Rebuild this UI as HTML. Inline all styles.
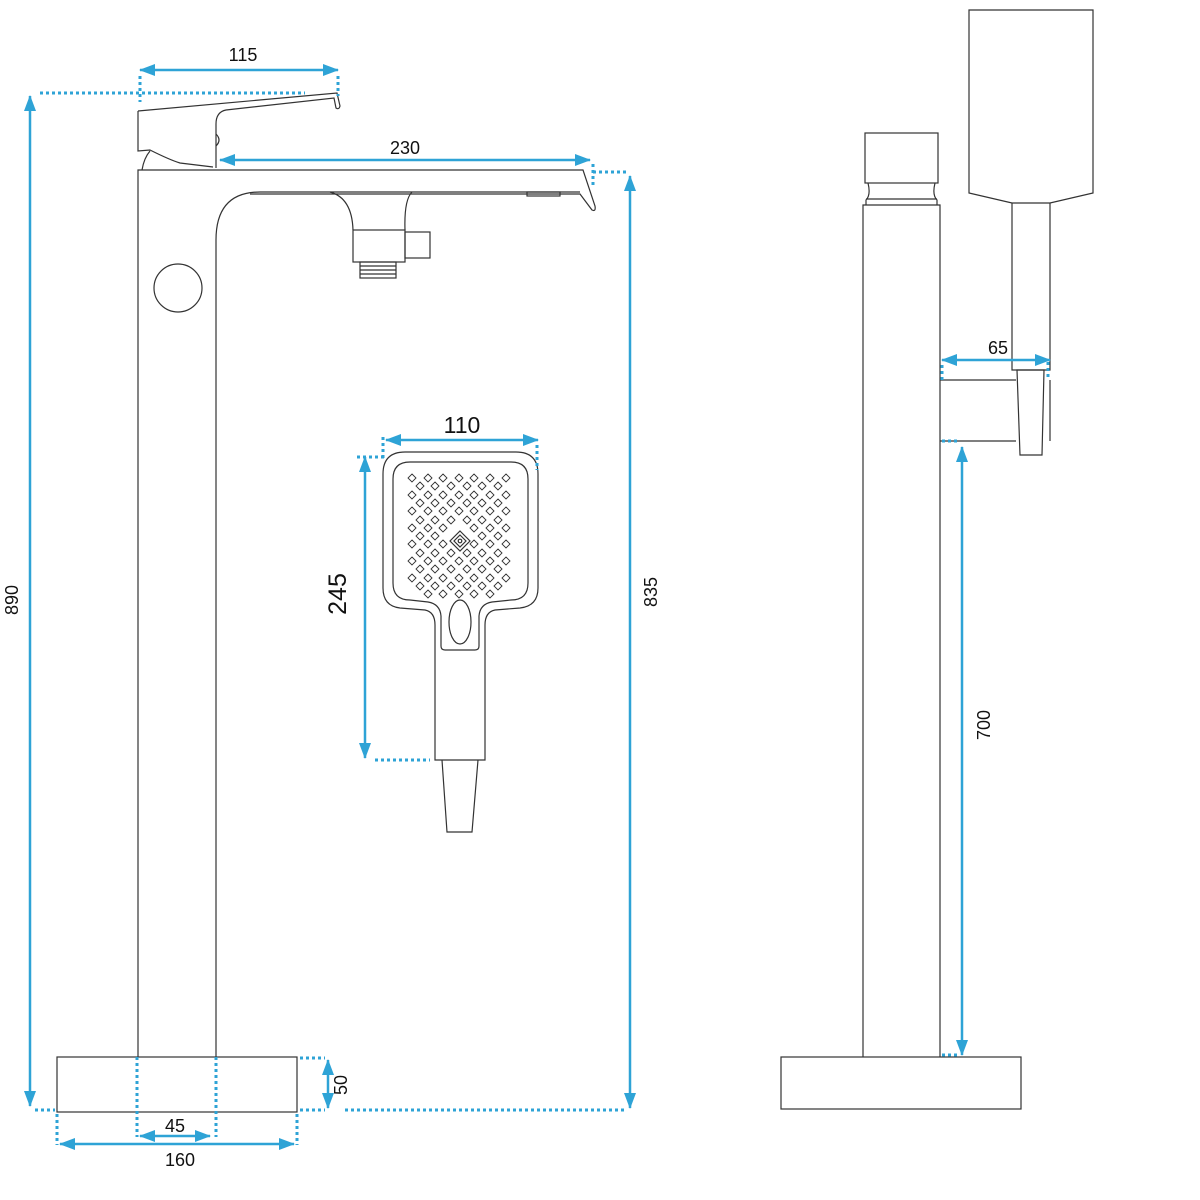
<!DOCTYPE html>
<html><head><meta charset="utf-8"><style>html,body{margin:0;padding:0;background:#fff}svg{display:block}text{font-family:"Liberation Sans",sans-serif;fill:#111}</style></head>
<body>
<svg width="1200" height="1200" viewBox="0 0 1200 1200" xmlns="http://www.w3.org/2000/svg">
<defs>
<marker id="a" markerWidth="16" markerHeight="12" refX="15" refY="6" orient="auto-start-reverse" markerUnits="userSpaceOnUse"><path d="M0,0 L16,6 L0,12 Z" fill="#2ea3d6"/></marker>
</defs>
<g fill="none" stroke="#333" stroke-width="1.2">
<path d="M138,1057 V170 H583 L595,206 Q596,212 592,210 L580,194 H250"/>
<path d="M216,1057 V240 Q216,192 260,192 H580"/>
<path d="M138,111 L337,93 L340,106 Q339,110 336,108 L334,98 L226,110 Q216,112 216,124 V168"/>
<path d="M138,111 V151 L150,150 Q170,160 180,163 L213,167"/>
<path d="M142,170 Q144,158 150,151"/>
<path d="M216,134 Q222,140 216,146"/>
<path d="M330,192 Q352,198 353,230 M412,192 Q404,200 405,230"/>
<rect x="353" y="230" width="52" height="32"/>
<rect x="405" y="232" width="25" height="26"/>
<rect x="360" y="262" width="36" height="16"/>
<path d="M360,266 H396 M360,270 H396 M360,274 H396"/>
<rect x="527" y="192" width="33" height="4"/>
<circle cx="178" cy="288" r="24"/>
<rect x="57" y="1057" width="240" height="55"/>
<path d="M405,452 H516 Q538,452 538,474 V588 Q538,606 520,608 L495,610 Q485,612 485,625 V760 H435 V625 Q435,612 425,610 L400,608 Q383,606 383,588 V474 Q383,452 405,452 Z"/>
<path d="M410,462 H511 Q528,462 528,479 V583 Q528,600 511,600 L492,602 Q480,604 479,616 V646 Q479,650 475,650 H445 Q441,650 441,646 V616 Q440,604 428,602 L410,600 Q393,600 393,583 V479 Q393,462 410,462 Z"/>
<ellipse cx="460" cy="622" rx="11" ry="22"/>
<path d="M442,760 L447,832 H472 L478,760"/>
<g stroke-width="0.9">
<path d="M412,474l4,4-4,4-4-4zM428,474l4,4-4,4-4-4zM443,474l4,4-4,4-4-4zM459,474l4,4-4,4-4-4zM474,474l4,4-4,4-4-4zM490,474l4,4-4,4-4-4zM506,474l4,4-4,4-4-4z"/>
<path d="M420,482l4,4-4,4-4-4zM435,482l4,4-4,4-4-4zM451,482l4,4-4,4-4-4zM467,482l4,4-4,4-4-4zM482,482l4,4-4,4-4-4zM498,482l4,4-4,4-4-4z"/>
<path d="M412,491l4,4-4,4-4-4zM428,491l4,4-4,4-4-4zM443,491l4,4-4,4-4-4zM459,491l4,4-4,4-4-4zM474,491l4,4-4,4-4-4zM490,491l4,4-4,4-4-4zM506,491l4,4-4,4-4-4z"/>
<path d="M420,499l4,4-4,4-4-4zM435,499l4,4-4,4-4-4zM451,499l4,4-4,4-4-4zM467,499l4,4-4,4-4-4zM482,499l4,4-4,4-4-4zM498,499l4,4-4,4-4-4z"/>
<path d="M412,507l4,4-4,4-4-4zM428,507l4,4-4,4-4-4zM443,507l4,4-4,4-4-4zM459,507l4,4-4,4-4-4zM474,507l4,4-4,4-4-4zM490,507l4,4-4,4-4-4zM506,507l4,4-4,4-4-4z"/>
<path d="M420,516l4,4-4,4-4-4zM435,516l4,4-4,4-4-4zM451,516l4,4-4,4-4-4zM467,516l4,4-4,4-4-4zM482,516l4,4-4,4-4-4zM498,516l4,4-4,4-4-4z"/>
<path d="M412,524l4,4-4,4-4-4zM428,524l4,4-4,4-4-4zM443,524l4,4-4,4-4-4zM474,524l4,4-4,4-4-4zM490,524l4,4-4,4-4-4zM506,524l4,4-4,4-4-4z"/>
<path d="M420,532l4,4-4,4-4-4zM435,532l4,4-4,4-4-4zM482,532l4,4-4,4-4-4zM498,532l4,4-4,4-4-4z"/>
<path d="M412,540l4,4-4,4-4-4zM428,540l4,4-4,4-4-4zM443,540l4,4-4,4-4-4zM474,540l4,4-4,4-4-4zM490,540l4,4-4,4-4-4zM506,540l4,4-4,4-4-4z"/>
<path d="M420,549l4,4-4,4-4-4zM435,549l4,4-4,4-4-4zM451,549l4,4-4,4-4-4zM467,549l4,4-4,4-4-4zM482,549l4,4-4,4-4-4zM498,549l4,4-4,4-4-4z"/>
<path d="M412,557l4,4-4,4-4-4zM428,557l4,4-4,4-4-4zM443,557l4,4-4,4-4-4zM459,557l4,4-4,4-4-4zM474,557l4,4-4,4-4-4zM490,557l4,4-4,4-4-4zM506,557l4,4-4,4-4-4z"/>
<path d="M420,565l4,4-4,4-4-4zM435,565l4,4-4,4-4-4zM451,565l4,4-4,4-4-4zM467,565l4,4-4,4-4-4zM482,565l4,4-4,4-4-4zM498,565l4,4-4,4-4-4z"/>
<path d="M412,574l4,4-4,4-4-4zM428,574l4,4-4,4-4-4zM443,574l4,4-4,4-4-4zM459,574l4,4-4,4-4-4zM474,574l4,4-4,4-4-4zM490,574l4,4-4,4-4-4zM506,574l4,4-4,4-4-4z"/>
<path d="M420,582l4,4-4,4-4-4zM435,582l4,4-4,4-4-4zM451,582l4,4-4,4-4-4zM467,582l4,4-4,4-4-4zM482,582l4,4-4,4-4-4zM498,582l4,4-4,4-4-4z"/>
<path d="M428,590l4,4-4,4-4-4zM443,590l4,4-4,4-4-4zM459,590l4,4-4,4-4-4zM474,590l4,4-4,4-4-4zM490,590l4,4-4,4-4-4z"/>
</g>
<path d="M460,531 l10,10 l-10,10 l-10,-10 Z M460,535 l6,6 l-6,6 l-6,-6 Z"/>
<circle cx="460" cy="541" r="1.8"/>
<rect x="865" y="133" width="73" height="50"/>
<path d="M868,183 Q871,195 866,200 V205 M935,183 Q932,195 937,200 V205 M866,199 H937"/>
<path d="M863,1057 V205 H940 V1057"/>
<rect x="781" y="1057" width="240" height="52"/>
<path d="M969,10 H1093 V193 L1050,203 H1012 L969,193 Z"/>
<path d="M1012,203 V370 H1050 V203"/>
<path d="M940,380 H1016 M940,441 H1016 M1017,370 H1044 L1042,455 H1020 Z M1050,380 V441"/>
</g>
<g stroke="#2ea3d6" stroke-width="2.5" fill="none">
<line x1="30" y1="96" x2="30" y2="1106" marker-start="url(#a)" marker-end="url(#a)"/>
<line x1="140" y1="70" x2="338" y2="70" marker-start="url(#a)" marker-end="url(#a)"/>
<line x1="220" y1="160" x2="590" y2="160" marker-start="url(#a)" marker-end="url(#a)"/>
<line x1="630" y1="176" x2="630" y2="1108" marker-start="url(#a)" marker-end="url(#a)"/>
<line x1="328" y1="1060" x2="328" y2="1108" marker-start="url(#a)" marker-end="url(#a)"/>
<line x1="140" y1="1136" x2="210" y2="1136" marker-start="url(#a)" marker-end="url(#a)"/>
<line x1="60" y1="1144" x2="294" y2="1144" marker-start="url(#a)" marker-end="url(#a)"/>
<line x1="386" y1="440" x2="538" y2="440" marker-start="url(#a)" marker-end="url(#a)"/>
<line x1="365" y1="457" x2="365" y2="758" marker-start="url(#a)" marker-end="url(#a)"/>
<line x1="942" y1="360" x2="1050" y2="360" marker-start="url(#a)" marker-end="url(#a)"/>
<line x1="962" y1="447" x2="962" y2="1055" marker-start="url(#a)" marker-end="url(#a)"/>
</g>
<g stroke="#2ea3d6" stroke-width="3" stroke-dasharray="3,3" fill="none">
<path d="M40,93 H305 M140,76 V102 M338,76 V96"/>
<path d="M593,172 H628 M593,164 V186"/>
<path d="M345,1110 H625 M35,1110 H55 M300,1058 H325 M300,1110 H325"/>
<path d="M137,1057 V1137 M216,1057 V1137 M57,1114 V1145 M297,1114 V1145"/>
<path d="M383,437 V458 M537,445 V470 M357,457 H385 M375,760 H430"/>
<path d="M942,365 V380 M1048,362 V380 M942,441 H960 M942,1055 H960"/>
</g>
<g font-size="18">
<text x="243" y="61" text-anchor="middle">115</text>
<text x="405" y="154" text-anchor="middle">230</text>
<text x="175" y="1132" text-anchor="middle">45</text>
<text x="180" y="1166" text-anchor="middle">160</text>
<text x="998" y="354" text-anchor="middle">65</text>
<text transform="translate(18,600) rotate(-90)" text-anchor="middle">890</text>
<text transform="translate(657,592) rotate(-90)" text-anchor="middle">835</text>
<text transform="translate(347,1085) rotate(-90)" text-anchor="middle">50</text>
<text transform="translate(990,725) rotate(-90)" text-anchor="middle">700</text>
</g>
<text x="462" y="433" text-anchor="middle" font-size="23">110</text>
<text transform="translate(346,594) rotate(-90)" text-anchor="middle" font-size="25">245</text>
</svg>
</body></html>
